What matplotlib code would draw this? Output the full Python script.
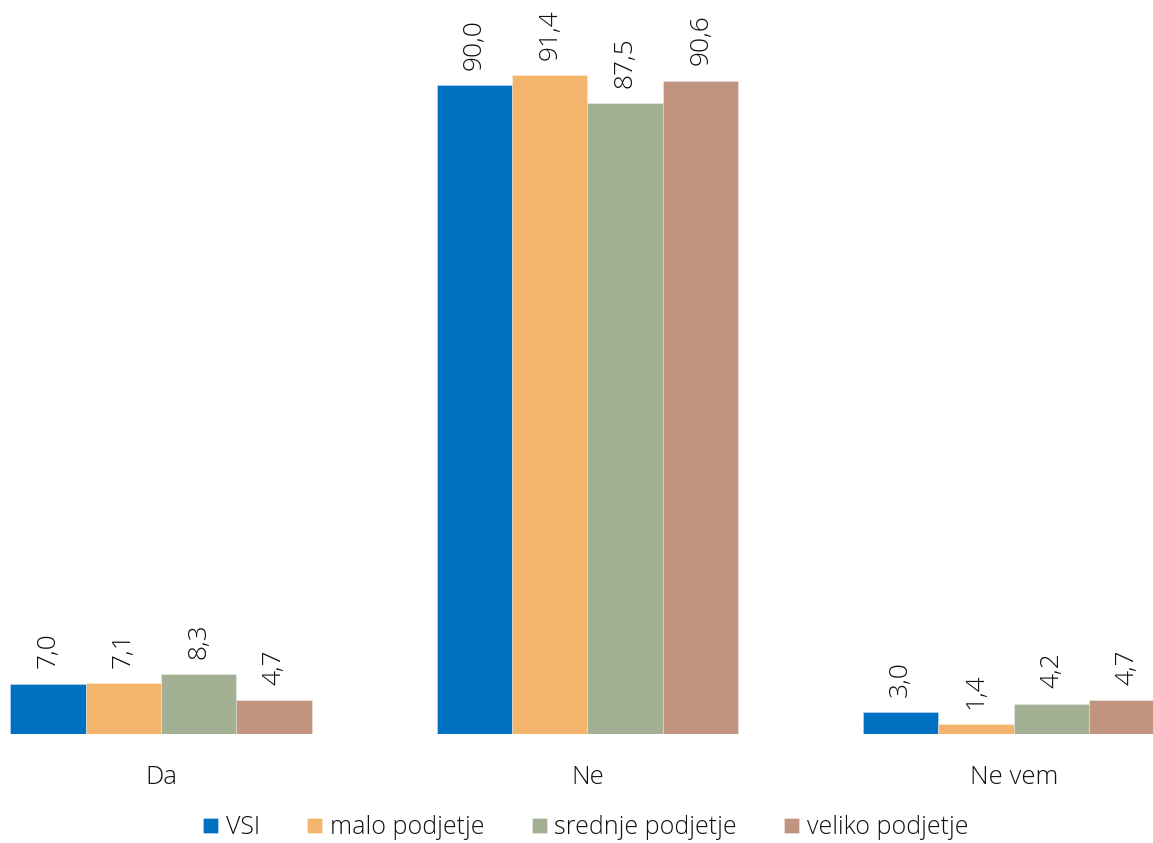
import matplotlib
matplotlib.use("Agg")
import matplotlib.pyplot as plt
import numpy as np

categories = ["Da", "Ne", "Ne vem"]
series_names = ["VSI", "malo podjetje", "srednje podjetje", "veliko podjetje"]
vsi = [7.0, 90.0, 3.0]
malo = [7.1, 91.4, 1.4]
srednje = [8.3, 87.5, 4.2]
veliko = [4.7, 90.6, 4.7]
colors = ["#0070C0", "#F2B56B", "#A3B094", "#C1947F"]

plt.rcParams["font.family"] = ["Open Sans", "DejaVu Sans"]
text_color = "#111111"

fig = plt.figure(figsize=(11.53, 8.43), dpi=100)
ax = fig.add_axes([0.0, 0.1293, 1.0, 0.8707])

x = np.arange(len(categories))
bar_w = 0.177
series = [vsi, malo, srednje, veliko]
for i, (name, vals, c) in enumerate(zip(series_names, series, colors)):
    pos = x + (i - 1.5) * bar_w
    bars = ax.bar(pos, vals, width=bar_w, color=c, label=name,
                  edgecolor=(1, 1, 1, 0.35), linewidth=0.6)
    for b, v in zip(bars, vals):
        ax.annotate(f"{v:.1f}".replace(".", ","),
                    (b.get_x() + b.get_width() / 2, v),
                    xytext=(0, 11), textcoords="offset points",
                    rotation=90, ha="center", va="bottom",
                    fontsize=19, fontweight="light", color=text_color)

ax.set_xlim(-0.3775, 2.326)
ax.set_ylim(0, 101.8)
for s in ax.spines.values():
    s.set_visible(False)
ax.set_yticks([])
ax.set_xticks(x)
ax.set_xticklabels(categories, fontsize=18.5, fontweight="light", color=text_color)
ax.tick_params(axis="x", length=0, pad=22)

fig.legend(loc="center", bbox_to_anchor=(0.508, 0.018), bbox_transform=fig.transFigure,
           ncol=4, frameon=False, handlelength=0.6, handleheight=0.6,
           handletextpad=0.3, columnspacing=1.9,
           prop={"size": 18, "weight": "light"}, labelcolor=text_color)

fig.savefig("out.png", dpi=100)
